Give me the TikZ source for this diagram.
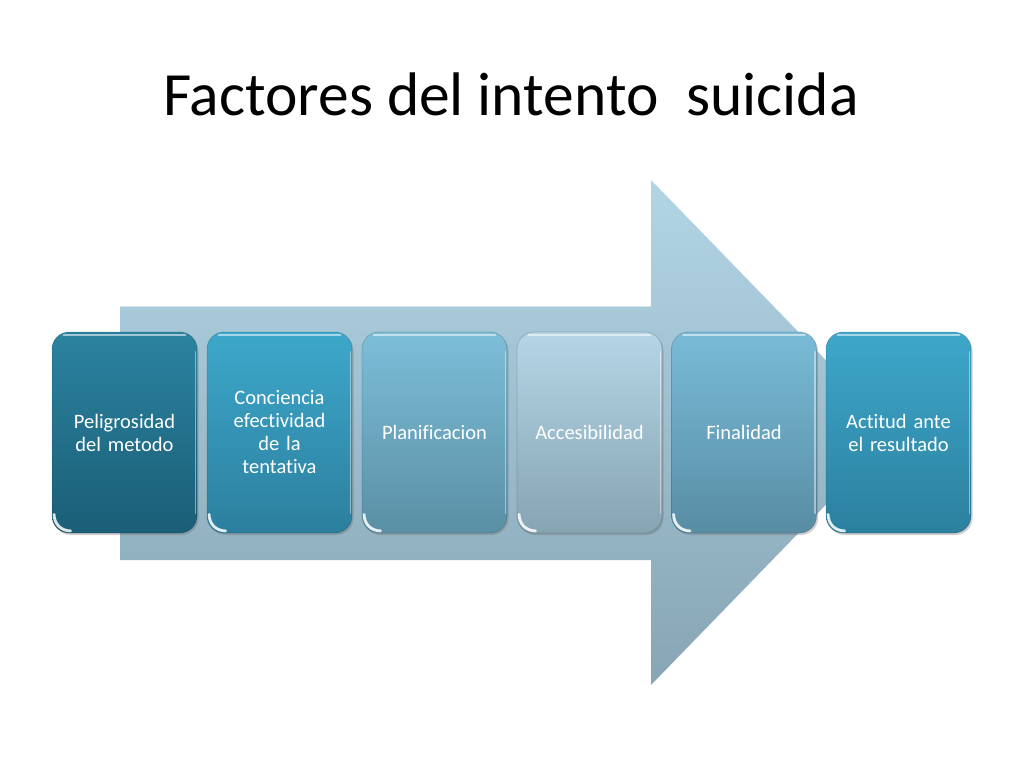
\documentclass[tikz,border=0pt]{standalone}
\usepackage{fontspec}
\setmainfont{Carlito}[Ligatures={NoCommon}]
\usetikzlibrary{shadows}
\definecolor{arrtop}{HTML}{B2D5E5}
\definecolor{arrbot}{HTML}{87A5B4}
\definecolor{bAt}{HTML}{2B83A0}\definecolor{bAb}{HTML}{1B5E77}
\definecolor{bBt}{HTML}{3DA8CB}\definecolor{bBb}{HTML}{2C7F9E}
\definecolor{bCt}{HTML}{7DBED8}\definecolor{bCb}{HTML}{5A8FA5}
\definecolor{bDt}{HTML}{B5D6E6}\definecolor{bDb}{HTML}{86A4B2}
\definecolor{bEt}{HTML}{79BBD7}\definecolor{bEb}{HTML}{588DA4}
\definecolor{bFt}{HTML}{3EA7CA}\definecolor{bFb}{HTML}{2B809F}
\tikzset{
  factorbox/.style={rounded corners=17pt, minimum width=145pt, minimum height=201pt,
    inner sep=4pt, text width=137pt, align=center, text=white,
    font=\fontsize{20.5}{23}\selectfont,
    draw=black, draw opacity=0.15, line width=0.8pt,
    drop shadow={shadow xshift=1.5pt, shadow yshift=-2pt, opacity=0.3, fill=black!60}},
  gloss/.style={white, line width=2.8pt, opacity=0.85, line cap=round},
  topgloss/.style={white, line width=2pt, opacity=0.55, line cap=round},
  sidegloss/.style={white, line width=1.2pt, opacity=0.45, line cap=round},
}
\begin{document}
\begin{tikzpicture}[x=1pt,y=-1pt]
\useasboundingbox (0,0) rectangle (1024,768);
\fill[white] (0,0) rectangle (1024,768);
% title
\node[anchor=base, font=\fontsize{61.5}{70}\selectfont] (title) at (511,115) {Factores del intento\ \ suicida};
% big arrow
\shade[top color=arrtop, bottom color=arrbot]
  (120,306) -- (651,306) -- (651,180) -- (896,432.5) -- (651,685) -- (651,560) -- (120,560) -- cycle;
\draw[white, opacity=0.5, line width=1pt] (120,306.5) -- (651,306.5);
% boxes
\foreach \i/\x/\c/\t in {
  a/124.5/A/{Peligrosidad\\del metodo},
  b/279.5/B/{Conciencia\\efectividad\\de la\\tentativa},
  c/434.5/C/{Planificacion},
  d/589.5/D/{Accesibilidad},
  e/744/E/{Finalidad},
  f/898.5/F/{Actitud ante\\el resultado}}{
  \node[factorbox, top color=b\c t, bottom color=b\c b] (\i) at (\x,432.5) {\t};
  \draw[gloss] ([xshift=2.5pt,yshift=19pt]\i.south west) .. controls ([xshift=2.5pt,yshift=10pt]\i.south west) and ([xshift=9pt,yshift=2.5pt]\i.south west) .. ([xshift=19pt,yshift=2.5pt]\i.south west);
  \draw[topgloss] ([xshift=12pt,yshift=-3pt]\i.north west) -- ([xshift=-12pt,yshift=-3pt]\i.north east);
  \draw[sidegloss] ([xshift=-2pt,yshift=-20pt]\i.north east) -- ([xshift=-2pt,yshift=20pt]\i.south east);
}
\end{tikzpicture}
\end{document}
